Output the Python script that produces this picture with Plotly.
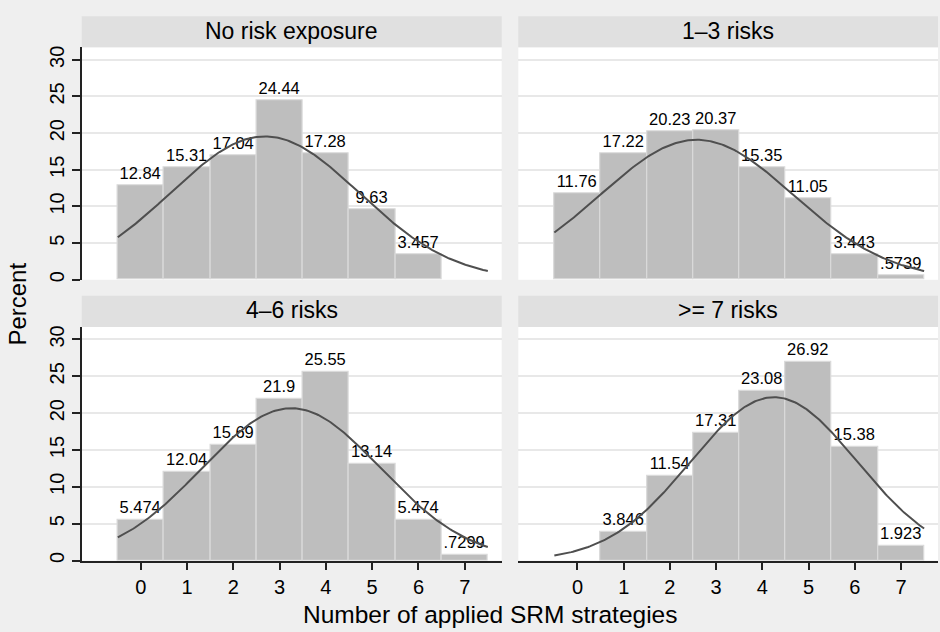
import numpy as np
import plotly.graph_objects as go

# Number of applied SRM strategies (bar positions) and percent of households per group
x_none = [0, 1, 2, 3, 4, 5, 6]
pct_none = [12.84, 15.31, 17.04, 24.44, 17.28, 9.63, 3.457]

x_low = [0, 1, 2, 3, 4, 5, 6, 7]
pct_low = [11.76, 17.22, 20.23, 20.37, 15.35, 11.05, 3.443, 0.5739]

x_mid = [0, 1, 2, 3, 4, 5, 6, 7]
pct_mid = [5.474, 12.04, 15.69, 21.9, 25.55, 13.14, 5.474, 0.7299]

x_high = [1, 2, 3, 4, 5, 6, 7]
pct_high = [3.846, 11.54, 17.31, 23.08, 26.92, 15.38, 1.923]

panel_titles = ["No risk exposure", "1\u20133 risks", "4\u20136 risks", ">= 7 risks"]

# Parameters of the overlaid normal density in each panel
normal_mean = [2.68, 2.58, 3.25, 4.25]
normal_sd = [2.04, 2.09, 1.93, 1.80]

x_ticks = [0, 1, 2, 3, 4, 5, 6, 7]
y_ticks = [0, 5, 10, 15, 20, 25, 30]

FONT = "Liberation Sans, Arial, Helvetica, sans-serif"
W, H = 940, 632
BG = "#efefef"
STRIP = "#e0e0e0"
BAR = "#bebebe"
BAR_EDGE = "#dadada"
CURVE = "#4f4f4f"
GRID = "#e8e8e8"
AXIS = "#222222"


def px_x(p):
    return p / W


def px_y(p):
    return 1 - p / H


def stata_label(v):
    s = f"{v:.4g}"
    return s[1:] if s.startswith("0.") else s


# panel geometry in pixels: (left, right, top, bottom)
cols = [(81.7, 501.7), (518.3, 938.0)]
rows = [(45.7, 280.0), (327.5, 563.0)]
strip_h = 31.3

panels = [
    (x_none, pct_none),
    (x_low, pct_low),
    (x_mid, pct_mid),
    (x_high, pct_high),
]

fig = go.Figure()
layout = {}
shapes = []
annotations = []

for i, (xs, ys) in enumerate(panels):
    r, c = divmod(i, 2)
    n = "" if i == 0 else str(i + 1)
    xa, ya = "x" + n, "y" + n
    left, right = cols[c]
    top, bottom = rows[r]

    fig.add_trace(go.Bar(
        x=xs, y=ys, width=1, xaxis=xa, yaxis=ya,
        marker=dict(color=BAR, line=dict(color=BAR_EDGE, width=1.2)),
        text=[stata_label(v) for v in ys], textposition="outside",
        textfont=dict(family=FONT, size=16.5, color="#000000"),
        constraintext="none", cliponaxis=False, showlegend=False,
        hoverinfo="skip",
    ))

    mu, sd = normal_mean[i], normal_sd[i]
    xc = np.linspace(-0.5, 7.5, 241)
    yc = 100 * np.exp(-0.5 * ((xc - mu) / sd) ** 2) / (sd * np.sqrt(2 * np.pi))
    fig.add_trace(go.Scatter(
        x=xc, y=yc, mode="lines", xaxis=xa, yaxis=ya,
        line=dict(color=CURVE, width=2), showlegend=False, hoverinfo="skip",
    ))

    bottom_row = r == 1
    left_col = c == 0
    layout["xaxis" + n] = dict(
        domain=[px_x(left), px_x(right)], anchor=ya, range=[-1.28, 7.8],
        tickvals=x_ticks, showgrid=False, zeroline=False,
        showline=bottom_row, linecolor=AXIS, linewidth=1.5,
        ticks="outside" if bottom_row else "", ticklen=8, tickwidth=1.5,
        tickcolor=AXIS, showticklabels=bottom_row,
        tickfont=dict(family=FONT, size=20, color="#000000"),
    )
    layout["yaxis" + n] = dict(
        domain=[px_y(bottom), px_y(top)], anchor=xa, range=[0, 31.7],
        tickvals=y_ticks, showgrid=True, gridcolor=GRID, gridwidth=1.5,
        zeroline=False, showline=left_col, linecolor=AXIS, linewidth=1.5,
        ticks="outside" if left_col else "", ticklen=8, tickwidth=1.5,
        tickcolor=AXIS, showticklabels=left_col, tickangle=-90,
        tickfont=dict(family=FONT, size=20, color="#000000"),
    )

    # panel header strip
    s_top = top - strip_h
    shapes.append(dict(
        type="rect", xref="paper", yref="paper", layer="below",
        x0=px_x(left), x1=px_x(right), y0=px_y(top), y1=px_y(s_top),
        fillcolor=STRIP, line=dict(width=0),
    ))
    annotations.append(dict(
        xref="paper", yref="paper", x=px_x((left + right) / 2),
        y=px_y(s_top + strip_h / 2 - 1), text=panel_titles[i], showarrow=False,
        xanchor="center", yanchor="middle",
        font=dict(family=FONT, size=23, color="#000000"),
    ))

annotations.append(dict(
    xref="paper", yref="paper", x=px_x(18), y=px_y(305), text="Percent",
    textangle=-90, showarrow=False, xanchor="center", yanchor="middle",
    font=dict(family=FONT, size=24, color="#000000"),
))
annotations.append(dict(
    xref="paper", yref="paper", x=px_x(490), y=px_y(617),
    text="Number of applied SRM strategies", showarrow=False,
    xanchor="center", yanchor="middle",
    font=dict(family=FONT, size=24.5, color="#000000"),
))

fig.update_layout(
    width=W, height=H, margin=dict(l=0, r=0, t=0, b=0),
    paper_bgcolor=BG, plot_bgcolor="#ffffff", bargap=0,
    shapes=shapes, annotations=annotations,
    font=dict(family=FONT, color="#000000"),
    **layout,
)

fig.write_html("out.html")
